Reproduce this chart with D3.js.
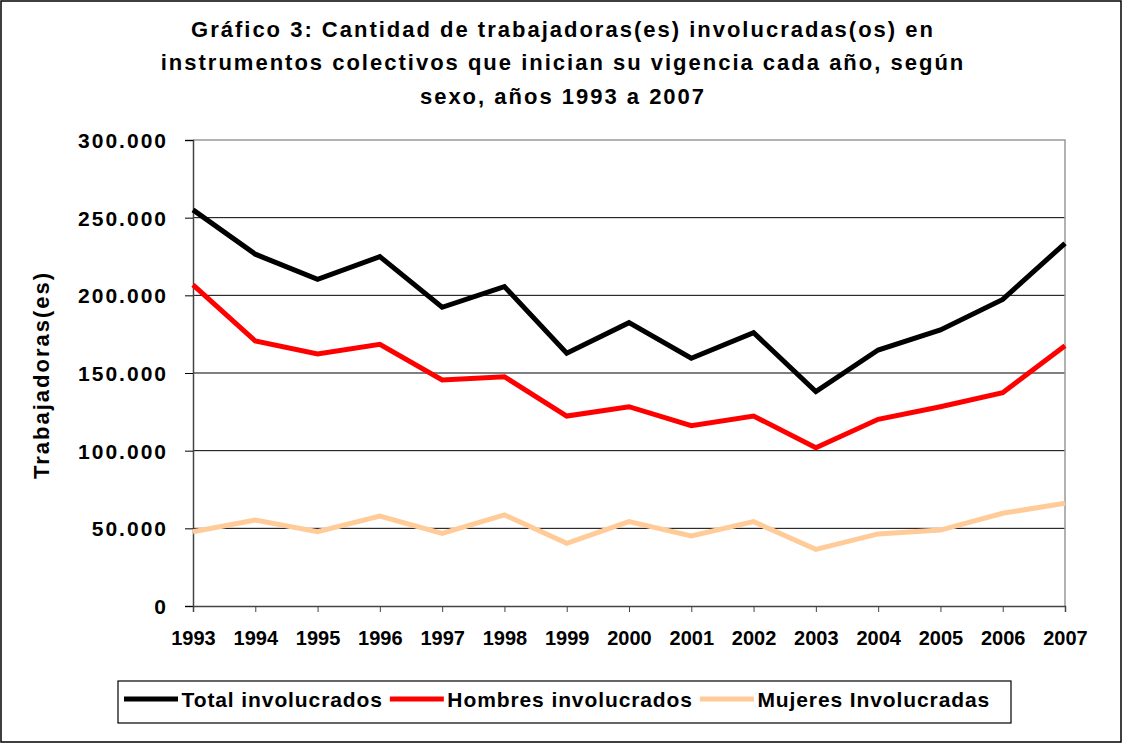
<!DOCTYPE html>
<html lang="es">
<head>
<meta charset="UTF-8">
<title>Gráfico 3</title>
<style>
  body { margin: 0; background: #fff; }
  text { font-family: "Liberation Sans", Arial, sans-serif; font-weight: bold; fill: #000; }
</style>
</head>
<body>
<script src="https://cdn.jsdelivr.net/npm/d3@7"></script>
<script>
const years = ["1993","1994","1995","1996","1997","1998","1999","2000","2001","2002","2003","2004","2005","2006","2007"];
const total = [255000,226500,210300,224900,192300,205600,162700,182400,159500,176000,138000,164800,177700,197400,233500];
const hombres = [206700,170600,162200,168500,145500,147600,122300,128300,116100,122300,101900,120200,128300,137300,167600];
const mujeres = [47800,55400,47800,57900,46800,58600,40400,54300,45100,54300,36500,46400,48900,59700,66100];
const seriesNames = ["Total involucrados","Hombres involucrados","Mujeres Involucradas"];
const seriesColors = ["#000000","#ff0000","#ffcc99"];
const yTicks = [0,50000,100000,150000,200000,250000,300000];
const titleLines = [
  "Gráfico 3: Cantidad de trabajadoras(es) involucradas(os) en",
  "instrumentos colectivos que inician su vigencia cada año, según",
  "sexo, años 1993 a 2007"
];

const W = 1123, H = 744;
const svg = d3.select("body").append("svg")
  .attr("width", W).attr("height", H);

// outer frame
svg.append("rect")
  .attr("x", 1).attr("y", 1).attr("width", W - 3).attr("height", H - 3)
  .attr("fill", "#fff").attr("stroke", "#000").attr("stroke-width", 1.5);

// title
svg.append("g").selectAll("text")
  .data(titleLines).enter().append("text")
  .attr("x", 563).attr("y", (d, i) => 36.5 + i * 33.5)
  .attr("text-anchor", "middle")
  .style("font-size", "22px")
  .style("letter-spacing", "2px")
  .text(d => d);

const x = d3.scalePoint().domain(years).range([193, 1065]);
const y = d3.scaleLinear().domain([0, 300000]).range([606, 140]);

const es = d3.formatLocale({ decimal: ",", thousands: ".", grouping: [3], currency: ["$", ""] });
const fmt = es.format(",.0f");

// grid lines
svg.append("g").selectAll("line")
  .data(yTicks.filter(d => d > 0 && d < 300000)).enter().append("line")
  .attr("x1", 193).attr("x2", 1065)
  .attr("y1", d => y(d)).attr("y2", d => y(d))
  .attr("stroke", "#000").attr("stroke-width", 1);

// plot frame top/right
svg.append("path")
  .attr("d", `M193,${y(300000)}H1065V606`)
  .attr("fill", "none").attr("stroke", "#999").attr("stroke-width", 1.5);

// y axis
const yAxis = svg.append("g")
  .attr("transform", "translate(193,0)")
  .call(d3.axisLeft(y).tickValues(yTicks).tickFormat(fmt).tickSize(8).tickPadding(17));
yAxis.select(".domain").attr("stroke", "#444").attr("stroke-width", 1.5);
yAxis.selectAll(".tick line").attr("stroke", "#000");
yAxis.selectAll("text")
  .style("font-size", "21px").style("letter-spacing", "2px")
  .attr("fill", "#000").attr("dy", "0.36em");

// x axis
const xAxis = svg.append("g")
  .attr("transform", "translate(0,606)")
  .call(d3.axisBottom(x).tickSize(6).tickPadding(19));
xAxis.select(".domain").attr("stroke", "#444").attr("stroke-width", 1.5);
xAxis.selectAll(".tick line").attr("stroke", "#444");
xAxis.selectAll("text")
  .style("font-size", "20px")
  .attr("fill", "#000");

// y title
svg.append("text")
  .attr("transform", "translate(49,375) rotate(-90)")
  .attr("text-anchor", "middle")
  .style("font-size", "22px").style("letter-spacing", "2px")
  .text("Trabajadoras(es)");

// lines
const series = [total, hombres, mujeres];
const line = d3.line().x((d, i) => x(years[i])).y(d => y(d));
svg.append("g").selectAll("path")
  .data([2, 1, 0]).enter().append("path")
  .attr("d", k => line(series[k]))
  .attr("fill", "none")
  .attr("stroke", k => seriesColors[k])
  .attr("stroke-width", 5)
  .attr("stroke-linejoin", "miter");

// legend
const leg = svg.append("g");
leg.append("rect")
  .attr("x", 118).attr("y", 681).attr("width", 893).attr("height", 42)
  .attr("fill", "#fff").attr("stroke", "#000").attr("stroke-width", 1.2);
let lx = 124;
seriesNames.forEach((name, i) => {
  leg.append("line")
    .attr("x1", lx).attr("x2", lx + 54).attr("y1", 699).attr("y2", 699)
    .attr("stroke", seriesColors[i]).attr("stroke-width", 5);
  const t = leg.append("text")
    .attr("x", lx + 57.5).attr("y", 706.7)
    .style("font-size", "21px").style("letter-spacing", "0.9px")
    .text(name);
  lx += 57.5 + t.node().getComputedTextLength() + 7;
});
</script>
</body>
</html>
